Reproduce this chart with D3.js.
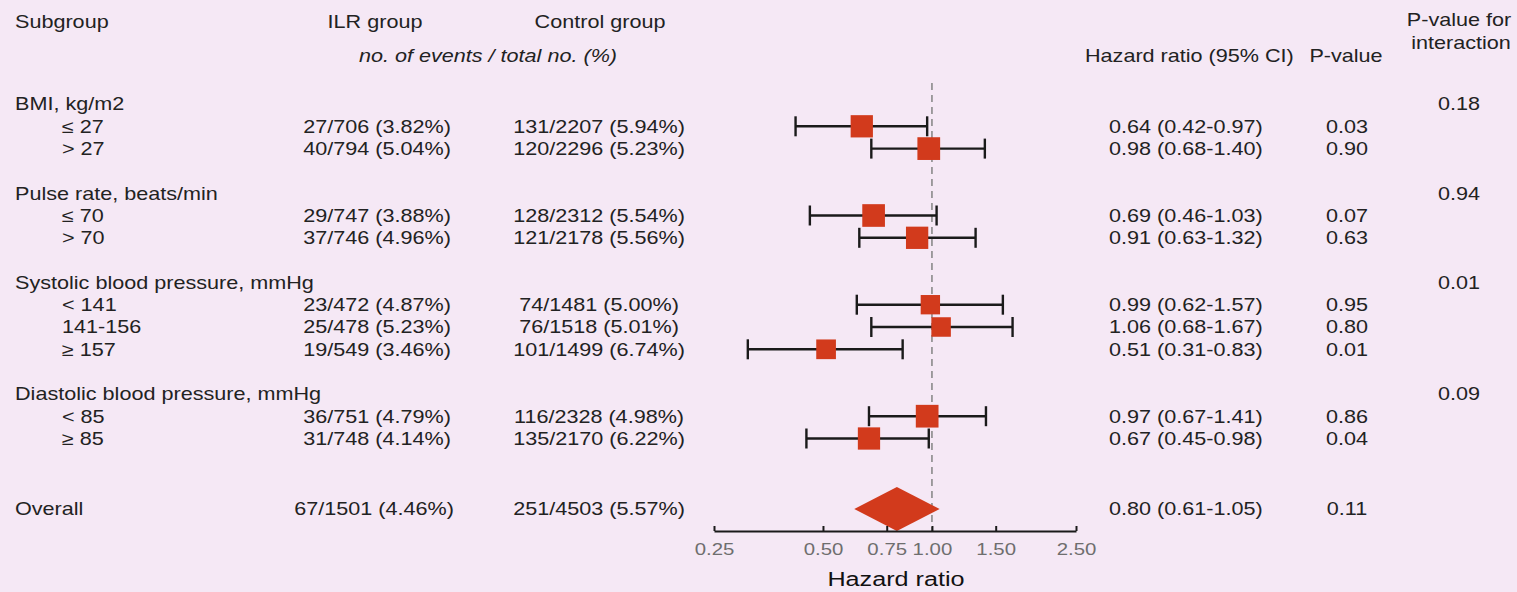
<!DOCTYPE html>
<html>
<head>
<meta charset="utf-8">
<script src="https://cdn.jsdelivr.net/npm/d3@7"></script>
<style>
  html, body { margin: 0; padding: 0; background: #f5e8f5; }
  svg { display: block; font-family: "Liberation Sans", Arial, sans-serif; }
</style>
</head>
<body>
<div id="chart"></div>
<script>
// Subgroup table
var groups      = ["BMI, kg/m2", "Pulse rate, beats/min", "Systolic blood pressure, mmHg", "Diastolic blood pressure, mmHg"];
var groupRows   = [0, 4, 8, 13];
var interactionP = ["0.18", "0.94", "0.01", "0.09"];

var subgroups   = ["≤ 27", "> 27", "≤ 70", "> 70", "< 141", "141-156", "≥ 157", "< 85", "≥ 85"];
var subRows     = [1, 2, 5, 6, 9, 10, 11, 14, 15];
var ilrEvents   = [27, 40, 29, 37, 23, 25, 19, 36, 31];
var ilrTotal    = [706, 794, 747, 746, 472, 478, 549, 751, 748];
var ctlEvents   = [131, 120, 128, 121, 74, 76, 101, 116, 135];
var ctlTotal    = [2207, 2296, 2312, 2178, 1481, 1518, 1499, 2328, 2170];
var hr          = [0.64, 0.98, 0.69, 0.91, 0.99, 1.06, 0.51, 0.97, 0.67];
var hrLow       = [0.42, 0.68, 0.46, 0.63, 0.62, 0.68, 0.31, 0.67, 0.45];
var hrHigh      = [0.97, 1.40, 1.03, 1.32, 1.57, 1.67, 0.83, 1.41, 0.98];
var pValues     = ["0.03", "0.90", "0.07", "0.63", "0.95", "0.80", "0.01", "0.86", "0.04"];

// Overall row
var overall = {label: "Overall", row: 18.16, ilrEvents: 67, ilrTotal: 1501, ctlEvents: 251, ctlTotal: 4503,
               hr: 0.80, lo: 0.61, hi: 1.05, p: "0.11"};

var tickValues = [0.25, 0.50, 0.75, 1.00, 1.50, 2.50];

// Layout
var width = 1517, height = 592,
    stretch = 1.2,
    red = "#d23a1c",
    ink = "#222";

var svg = d3.select("#chart")
  .append("svg")
    .attr("width", width)
    .attr("height", height);

svg.append("rect")
    .attr("width", width)
    .attr("height", height)
    .attr("fill", "#f5e8f5");

var x = d3.scaleLog().domain([0.25, 2.5]).range([714, 1076]);
var y = d3.scaleLinear().domain([0, 1]).range([104, 126.3]);

// text in the figure is a little wide, so scale it horizontally
function label(g, str, tx, ty, anchor, size, opts) {
  opts = opts || {};
  return g.append("text")
      .attr("transform", "translate(" + tx + "," + ty + ") scale(" + stretch + ",1)")
      .attr("text-anchor", anchor || "start")
      .attr("dy", "0.36em")
      .attr("font-size", size || 18)
      .attr("font-style", opts.italic ? "italic" : null)
      .attr("fill", opts.fill || ink)
      .text(str);
}

function pct(e, n) { return e + "/" + n + " (" + (100 * e / n).toFixed(2) + "%)"; }

var txt = svg.append("g").attr("class", "table");

// Column headers
label(txt, "Subgroup", 15, 22, "start");
label(txt, "ILR group", 375, 22, "middle");
label(txt, "Control group", 600, 22, "middle");
label(txt, "no. of events / total no. (%)", 488, 56, "middle", 18, {italic: true});
label(txt, "Hazard ratio (95% CI)", 1085, 56, "start");
label(txt, "P-value", 1346, 56, "middle");
label(txt, "P-value for", 1459, 20, "middle");
label(txt, "interaction", 1461, 43, "middle");

// Group headers + interaction p
groups.forEach(function(gname, i) {
  label(txt, gname, 15, y(groupRows[i]), "start");
  label(txt, interactionP[i], 1459, y(groupRows[i]), "middle");
});

// Subgroup rows
subgroups.forEach(function(s, i) {
  var ry = y(subRows[i]);
  label(txt, s, 62, ry, "start");
  label(txt, pct(ilrEvents[i], ilrTotal[i]), 377, ry, "middle");
  label(txt, pct(ctlEvents[i], ctlTotal[i]), 599, ry, "middle");
  label(txt, hr[i].toFixed(2) + " (" + hrLow[i].toFixed(2) + "-" + hrHigh[i].toFixed(2) + ")", 1109, ry, "start");
  label(txt, pValues[i], 1347, ry, "middle");
});

// Overall row text
var oy = y(overall.row);
label(txt, overall.label, 15, oy, "start");
label(txt, pct(overall.ilrEvents, overall.ilrTotal), 374, oy, "middle");
label(txt, pct(overall.ctlEvents, overall.ctlTotal), 599, oy, "middle");
label(txt, overall.hr.toFixed(2) + " (" + overall.lo.toFixed(2) + "-" + overall.hi.toFixed(2) + ")", 1109, oy, "start");
label(txt, overall.p, 1347, oy, "middle");

// Reference line at HR = 1
var plot = svg.append("g").attr("class", "forest");

plot.append("line")
    .attr("x1", x(1)).attr("x2", x(1))
    .attr("y1", 83).attr("y2", 531)
    .attr("stroke", "#8a8a8a")
    .attr("stroke-width", 1.6)
    .attr("stroke-dasharray", "7,5");

// Confidence intervals
var rows = subgroups.map(function(s, i) {
  return {row: subRows[i], hr: hr[i], lo: hrLow[i], hi: hrHigh[i], n: ilrTotal[i] + ctlTotal[i]};
});

var ci = plot.selectAll("g.ci")
  .data(rows)
  .enter()
  .append("g")
    .attr("class", "ci")
    .attr("stroke", "#1a1a1a")
    .attr("stroke-width", 2.4);

ci.append("line")
    .attr("x1", function(d) { return x(d.lo); })
    .attr("x2", function(d) { return x(d.hi); })
    .attr("y1", function(d) { return y(d.row); })
    .attr("y2", function(d) { return y(d.row); });

ci.selectAll("line.cap")
  .data(function(d) { return [{v: d.lo, row: d.row}, {v: d.hi, row: d.row}]; })
  .enter()
  .append("line")
    .attr("class", "cap")
    .attr("x1", function(d) { return x(d.v); })
    .attr("x2", function(d) { return x(d.v); })
    .attr("y1", function(d) { return y(d.row) - 10; })
    .attr("y2", function(d) { return y(d.row) + 10; });

// Square size follows subgroup size
var side = d3.scalePow().exponent(0.35).domain([0, 3000]).range([0, 22.5]);

plot.selectAll("rect.box")
  .data(rows)
  .enter()
  .append("rect")
    .attr("class", "box")
    .attr("x", function(d) { return x(d.hr) - side(d.n) / 2; })
    .attr("y", function(d) { return y(d.row) - side(d.n) / 2; })
    .attr("width", function(d) { return side(d.n); })
    .attr("height", function(d) { return side(d.n); })
    .attr("fill", red);

// Overall diamond
var dh = 22;
plot.append("path")
    .attr("d", d3.line()([
      [x(overall.lo), oy],
      [x(overall.hr), oy - dh],
      [x(overall.hi), oy],
      [x(overall.hr), oy + dh]
    ]) + "Z")
    .attr("fill", red);

// Axis
var axisG = svg.append("g")
    .attr("transform", "translate(0,531)")
    .call(d3.axisBottom(x)
      .tickValues(tickValues)
      .tickFormat(d3.format(".2f"))
      .tickSize(-5)
      .tickSizeOuter(0)
      .tickPadding(12));

axisG.select(".domain").attr("stroke", "#1a1a1a").attr("stroke-width", 2);
axisG.selectAll(".tick line").attr("stroke", "#1a1a1a").attr("stroke-width", 2);
axisG.selectAll(".tick text")
    .attr("font-size", 17)
    .attr("font-family", "'Liberation Sans', Arial, sans-serif")
    .attr("fill", "#6e6e6e")
    .attr("transform", "scale(" + stretch + ",1)");

label(svg, "Hazard ratio", 896, 578, "middle", 21, {fill: "#111"});
</script>
</body>
</html>
